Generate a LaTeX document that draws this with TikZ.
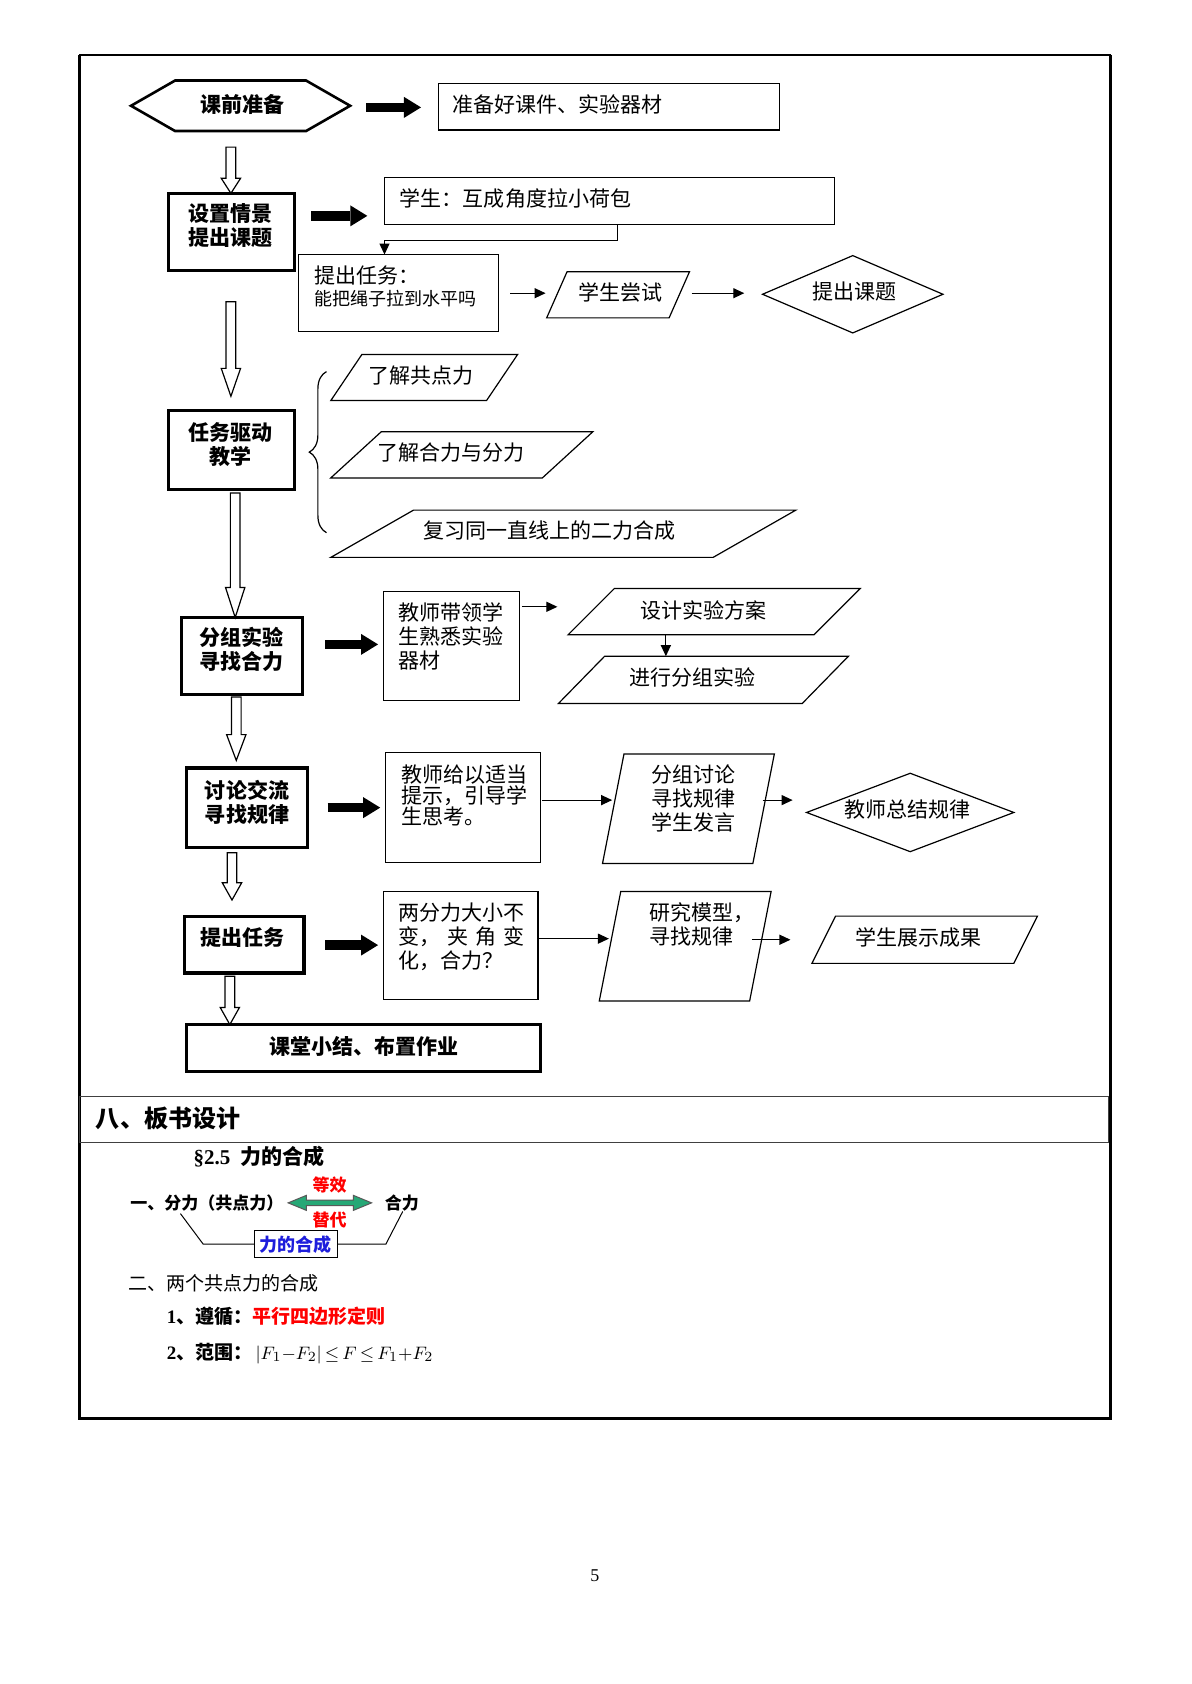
\documentclass[tikz,border=0pt]{standalone}
\usepackage{fontspec}
\setmainfont{Liberation Serif}
\newfontfamily\cjk{Noto Sans CJK SC}
\usetikzlibrary{arrows.meta,calc,decorations.pathreplacing}
\newdimen\unitpx
\unitpx=0.5366pt
\newcommand\fnorm{\cjk\fontsize{10.5}{12}\selectfont}
\newcommand\fbold{\cjk\bfseries\fontsize{10.5}{12}\selectfont}
\definecolor{gfill}{RGB}{38,168,118}
\definecolor{bblue}{RGB}{30,30,220}
\tikzset{
  sz/.style 2 args={minimum width=#1\unitpx, minimum height=#2\unitpx},
  ghost/.style={inner sep=0pt, outer sep=0pt},
  frame/.style={ghost, draw, line width=0.6pt},
  tframe/.style={ghost, draw, line width=1.6pt},
  txt/.style={inner sep=0pt, font=\fnorm, align=left},
  btxt/.style={inner sep=0pt, font=\fbold, align=center},
  shapeline/.style={line width=0.6pt},
  arr/.style={line width=0.6pt, -{Triangle[length=5.5pt,width=5pt]}},
  fatarr/.style={line width=4.8pt, -{Triangle[length=8.5pt,width=10.5pt,line width=0pt]}},
  hollowline/.style={line width=0.6pt, fill=white, line join=miter},
}
\newcommand\drawpara[2]{\draw[shapeline] (#1.south west) -- ([shift={(#2,0)}]#1.north west) -- (#1.north east) -- ([shift={(-#2,0)}]#1.south east) -- cycle;}
\newcommand\drawdiam[1]{\draw[shapeline] (#1.west) -- (#1.north) -- (#1.east) -- (#1.south) -- cycle;}
\newcommand\drawhex[2]{\draw[line width=1.3pt] (#1.west) -- ([shift={(#2,0)}]#1.north west) -- ([shift={(-#2,0)}]#1.north east) -- (#1.east) -- ([shift={(-#2,0)}]#1.south east) -- ([shift={(#2,0)}]#1.south west) -- cycle;}
\newcommand\fatarrow[5]{\draw[fatarr] ($(#1 |- 0,#5)+(#2,0)$) -- ($(#3 |- 0,#5)+(-#4,0)$);}
\newcommand\thinarrow[5]{\draw[arr] ($(#1 |- 0,#5)+(#2,0)$) -- ($(#3 |- 0,#5)+(-#4,0)$);}
\newcommand\hollow[6]{%
  \draw[hollowline] let \p1=(#2), \p2=(#4), \p3=(#1,0) in
   (\x3-2.415pt,\y1-#3\unitpx) -- (\x3+2.415pt,\y1-#3\unitpx)
   -- (\x3+2.415pt,\y2+#5\unitpx+#6\unitpx) -- (\x3+4.83pt,\y2+#5\unitpx+#6\unitpx)
   -- (\x3,\y2+#5\unitpx) -- (\x3-4.83pt,\y2+#5\unitpx+#6\unitpx)
   -- (\x3-2.415pt,\y2+#5\unitpx+#6\unitpx) -- cycle;}
\begin{document}
\begin{tikzpicture}[x=0.5366pt, y=-0.5366pt]
\useasboundingbox (0,0) rectangle (1109,1568);
\fill[white] (0,0) rectangle (1109,1568);

% page frame
\draw[line width=1pt] (74,51) -- (1034,51);
\draw[line width=1.6pt] (1034,51) -- (1034,1321) -- (74,1321) -- (74,51);
\draw[line width=0.7pt, black!75] (74,1021) rectangle (1032,1064);

% ---------- flowchart ----------
\node[ghost, sz={204}{47}] (hex) at (224,98.5) {};
\drawhex{hex}{41}
\node[btxt] (hex-t) at (226,97) {课前准备};

\node[frame, sz={318}{43}] (b1) at (567,99.5) {};
\node[txt, anchor=west] (b1-t) at (421,97) {准备好课件、实验器材};

\node[tframe, sz={117}{72}] (b2) at (215.5,216) {};
\node[btxt] (b2-t) at (215,210) {设置情景\\提出课题};

\node[frame, sz={419}{44}] (b3) at (567.5,187) {};
\node[txt, anchor=west] (b3-t) at (372,185) {学生：互成角度拉小荷包};

\node[frame, sz={186}{72}] (b3c) at (371,273) {};
\node[txt, anchor=north west, font=\cjk\fontsize{9}{11.3}\selectfont] (b3c-t) at (292,247) {{\fontsize{10.5}{11.3}\selectfont 提出任务：}\\能把绳子拉到水平吗};

\node[ghost, sz={133}{43}] (p1) at (575.5,274.5) {};
\drawpara{p1}{19}
\node[txt] (p1-t) at (578,272) {学生尝试};

\node[ghost, sz={168}{72}] (d1) at (794,274) {};
\drawdiam{d1}
\node[txt] (d1-t) at (796,271) {提出课题};

\node[tframe, sz={117}{74}] (b4) at (215.5,419) {};
\node[btxt] (b4-t) at (215,414) {任务驱动\\教学};

\draw[line width=0.6pt, decorate, decoration={brace, amplitude=8.6pt}] (304,496) -- (304,346);

\node[ghost, sz={174}{43}] (p2) at (395,351.5) {};
\drawpara{p2}{29}
\node[txt] (p2-t) at (392,350) {了解共点力};

\node[ghost, sz={244}{43}] (p3) at (430,423.5) {};
\drawpara{p3}{47}
\node[txt] (p3-t) at (420,421) {了解合力与分力};

\node[ghost, sz={433}{44}] (p4) at (524.5,497) {};
\drawpara{p4}{77}
\node[txt] (p4-t) at (512,494) {复习同一直线上的二力合成};

\node[tframe, sz={113}{72}] (b5) at (225.5,611) {};
\node[btxt] (b5-t) at (225,605) {分组实验\\寻找合力};

\node[frame, sz={127}{101}] (b5b) at (420.5,601.5) {};
\node[txt, anchor=north west] (b5b-t) at (371,561) {教师带领学\\生熟悉实验\\器材};

\node[ghost, sz={272}{43}] (p5) at (665,569.5) {};
\drawpara{p5}{43}
\node[txt] (p5-t) at (655,568) {设计实验方案};

\node[ghost, sz={270}{44}] (p6) at (655,633) {};
\drawpara{p6}{43}
\node[txt] (p6-t) at (645,631) {进行分组实验};

\node[tframe, sz={112}{74}] (b6) at (230,752) {};
\node[btxt] (b6-t) at (230,747) {讨论交流\\寻找规律};

\node[frame, sz={144}{102}] (b6b) at (431,752) {};
\node[txt, anchor=north west, font=\cjk\fontsize{10.5}{10.5}\selectfont] (b6b-t) at (373,712) {教师给以适当\\提示，引导学\\生思考。};

\node[ghost, sz={160}{102}] (p7) at (641,753) {};
\drawpara{p7}{20}
\node[txt, anchor=north west] (p7-t) at (606,712) {分组讨论\\寻找规律\\学生发言};

\node[ghost, sz={193}{73}] (d2) at (847.5,756.5) {};
\drawdiam{d2}
\node[txt] (d2-t) at (845,754) {教师总结规律};

\node[tframe, sz={111}{53}] (b7) at (227.5,879.5) {};
\node[btxt] (b7-t) at (226,873) {提出任务};

\node[frame, sz={144}{101}] (b7b) at (429,880.5) {};
\node[txt, anchor=north west] (b7b-t) at (371,840) {两分力大小不\\\makebox[6em][l]{变，\hfill 夹\hfill 角\hfill 变}\\化，合力？};

\node[ghost, sz={160}{102}] (p8) at (638,881) {};
\drawpara{p8}{20}
\node[txt, anchor=north west] (p8-t) at (604,840) {研究模型，\\寻找规律};

\node[ghost, sz={210}{44}] (p9) at (861,875) {};
\drawpara{p9}{22}
\node[txt] (p9-t) at (855,873) {学生展示成果};

\node[tframe, sz={329}{44}] (b8) at (338.5,976) {};
\node[btxt] (b8-t) at (339,974) {课堂小结、布置作业};

% hollow arrows
\hollow{215}{hex.south}{15}{b2.north}{0}{14}
\hollow{215}{b2.south}{29}{b4.north}{13}{26}
\hollow{219}{b4.south}{3}{b5.north}{0}{28}
\hollow{220}{b5.south}{2}{b6.north}{7}{24}
\hollow{216}{b6.south}{5}{b7.north}{15}{16}
\hollow{214}{b7.south}{3}{b8.north}{0}{16}

% fat arrows
\fatarrow{hex.east}{15}{b1.west}{16}{100}
\fatarrow{b2.east}{16}{b3.west}{16}{201}
\fatarrow{b5.east}{21}{b5b.west}{5}{600}
\fatarrow{b6.east}{19}{b6b.west}{5}{752}
\fatarrow{b7.east}{20}{b7b.west}{5}{880}

% thin arrows
\draw[arr] ([shift={(7.5,0)}]b3.south) -- ++(0,15) -| ([shift={(-13,0)}]b3c.north);
\thinarrow{b3c.east}{11}{p1.west}{1}{273}
\thinarrow{p1.east}{2}{d1.west}{17}{273}
\thinarrow{b5b.east}{2}{p5.west}{10}{565}
\draw[arr] (p5.south -| 620,0) -- (p6.north -| 620,0);
\thinarrow{b6b.east}{2}{p7.center}{71}{745}
\thinarrow{p7.center}{69}{d2.west}{13}{745}
\thinarrow{b7b.east}{1}{p8.center}{71}{874}
\thinarrow{p8.center}{62}{p9.west}{20}{875}

% ---------- board design ----------
\node[anchor=west, inner sep=0pt, font=\cjk\bfseries\fontsize{12}{14}\selectfont] (sec8) at (89,1041) {八、板书设计};
\node[anchor=west, inner sep=0pt, font=\bfseries\fontsize{10.5}{12}\selectfont] (title) at (180,1077) {§2.5\hspace{5pt}{\cjk 力的合成}};

\node[anchor=west, inner sep=0pt, font=\cjk\bfseries\fontsize{8.5}{10}\selectfont] (fen) at (121,1120) {一、分力（共点力）};
\node[anchor=west, inner sep=0pt, font=\cjk\bfseries\fontsize{8.5}{10}\selectfont] (he) at (358,1120) {合力};
\draw[line width=0.5pt, draw=black!65, fill=gfill] let \p1=(fen.east), \p2=(he.west), \p3=(\x1+4\unitpx,\y1), \p4=(\x2-12\unitpx,\y1) in
  (\x3,\y3) -- (\x3+9.12pt,\y3+3.76pt) -- (\x3+9.12pt,\y3+1.34pt) -- (\x4-9.12pt,\y3+1.34pt) -- (\x4-9.12pt,\y3+3.76pt) -- (\x4,\y3)
  -- (\x4-9.12pt,\y3-3.76pt) -- (\x4-9.12pt,\y3-1.34pt) -- (\x3+9.12pt,\y3-1.34pt) -- (\x3+9.12pt,\y3-3.76pt) -- cycle;
\node[inner sep=0pt, text=red, font=\cjk\bfseries\fontsize{8.5}{10}\selectfont] (dx) at (307,1103) {等效};
\node[inner sep=0pt, text=red, font=\cjk\bfseries\fontsize{8.5}{10}\selectfont] (td) at (307,1136) {替代};
\node[frame, sz={77.5}{25}, text=bblue, font=\cjk\bfseries\fontsize{9}{10}\selectfont] (hc) at (275.5,1158.5) {力的合成};
\draw[line width=0.5pt] ([shift={(47,10)}]fen.west) -- ([shift={(-47.5,0)}]hc.west) -- (hc.west);
\draw[line width=0.5pt] (hc.east) -- ([shift={(45,0)}]hc.east) -- ([shift={(17,8)}]he.west);

\node[anchor=west, inner sep=0pt, font=\cjk\fontsize{9.5}{11}\selectfont] (two) at (119.5,1195) {二、两个共点力的合成};
\node[anchor=west, inner sep=0pt, font=\bfseries\fontsize{9.5}{11}\selectfont] (r1) at (155,1226) {1{\cjk 、遵循：}\textcolor{red}{\cjk 平行四边形定则}};
\node[anchor=west, inner sep=0pt, font=\bfseries\fontsize{9.5}{11}\selectfont] (r2) at (155,1260) {2{\cjk 、范围：}\,$\left|F_{1}{-}F_{2}\right|{\le}\,F\,{\le}\,F_{1}{+}F_{2}$};

\node[inner sep=0pt, font=\fontsize{9}{10}\selectfont] (pg) at (554,1467) {5};
\end{tikzpicture}
\end{document}
